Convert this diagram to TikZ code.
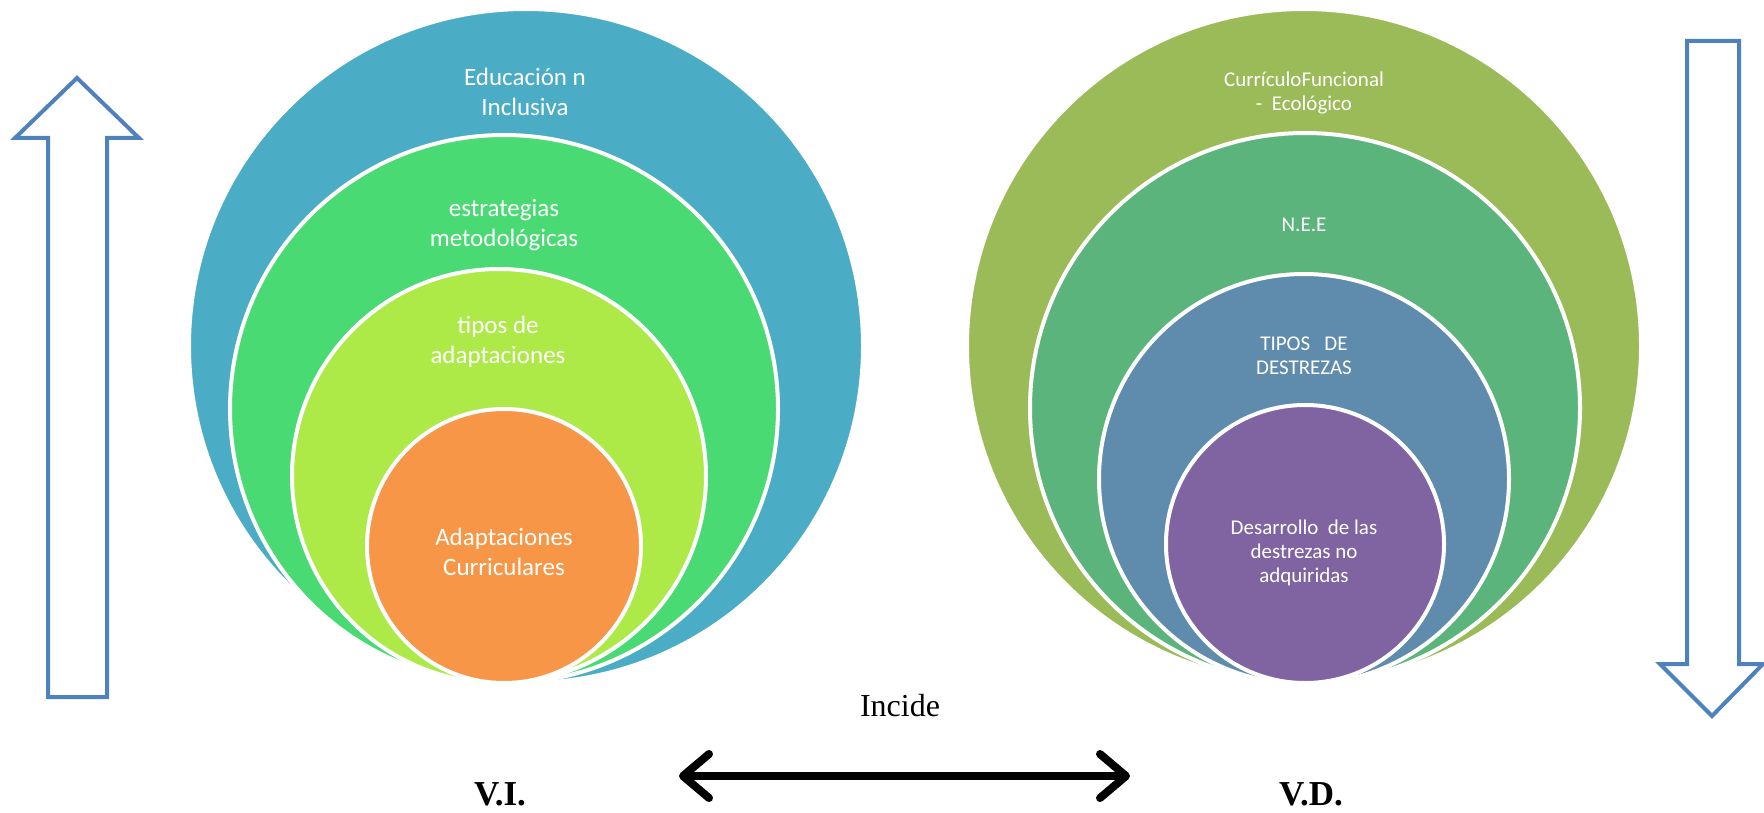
\documentclass[tikz,border=0pt]{standalone}
\usepackage{fontspec}
\setmainfont{Carlito}
\newfontfamily\timesfont{Liberation Serif}
\usetikzlibrary{arrows.meta}

\definecolor{eduBlue}{HTML}{4BACC6}
\definecolor{estrGreen}{HTML}{4ADA74}
\definecolor{tiposLime}{HTML}{ADEA48}
\definecolor{adaptOrange}{HTML}{F79646}
\definecolor{currOlive}{HTML}{9BBB59}
\definecolor{neeGreen}{HTML}{5CB47D}
\definecolor{tiposSteel}{HTML}{5F8BAD}
\definecolor{desaPurple}{HTML}{8064A2}
\definecolor{arrowBlue}{HTML}{4F81BD}

\begin{document}
\begin{tikzpicture}[x=1pt, y=-1pt,
        ring/.style={circle,draw=white,line width=4pt,inner sep=0pt,minimum size=#1},
        bigtext/.style={text=white,align=center,inner sep=0pt,font=\fontsize{25}{29.5}\selectfont},
        smalltext/.style={text=white,align=center,inner sep=0pt,font=\fontsize{21}{24}\selectfont},
        blockarrow/.style={draw=arrowBlue,line width=4pt,fill=white,line join=miter},
        vartext/.style={font=\timesfont\bfseries\fontsize{35}{40}\selectfont}
        ]
        \useasboundingbox (0,0) rectangle (1764,813);

        % V.I. circles
        \node[ring=674pt,fill=eduBlue] (edu) at (526,346) {};
        \node[ring=548pt,fill=estrGreen] (estr) at (504,409) {};
        \node[ring=414pt,fill=tiposLime] (tipos) at (499,476) {};
        \node[ring=274pt,fill=adaptOrange] (adapt) at (504,546) {};
        \node[bigtext] (eduT) at (525,92) {Educación n\\Inclusiva};
        \node[bigtext] (estrT) at (504,225) {estrategias\\metodológicas};
        \node[bigtext] (tiposT) at (498,342) {tipos de\\adaptaciones};
        \node[bigtext] (adaptT) at (504,552) {Adaptaciones\\Curriculares};

        % V.D. circles
        \node[ring=674pt,fill=currOlive] (curr) at (1304,346) {};
        \node[ring=550pt,fill=neeGreen] (nee) at (1305,408) {};
        \node[ring=410pt,fill=tiposSteel] (tiposD) at (1304,479) {};
        \node[ring=278pt,fill=desaPurple] (desa) at (1305,544) {};
        \node[smalltext] (currT) at (1304,93) {CurrículoFuncional\\-\ \ Ecológico};
        \node[smalltext] (neeT) at (1304,225) {N.E.E};
        \node[smalltext] (tiposDT) at (1304,356) {TIPOS\ \ \ DE\\DESTREZAS};
        \node[smalltext] (desaT) at (1304,553) {Desarrollo\ \ de las\\destrezas no\\adquiridas};

        % block arrows
        \draw[blockarrow] (77,78) -- (139,138) -- (107,138) -- (107,697)
          -- (48,697) -- (48,138) -- (15,138) -- cycle;
        \draw[blockarrow] (1687,41) -- (1739,41) -- (1739,664) -- (1763,664)
          -- (1712,716) -- (1660,664) -- (1687,664) -- cycle;

        % incide
        \node[font=\timesfont\fontsize{32}{36}\selectfont] (inc) at (900,706) {Incide};
        \node[vartext] (vi) at (500,794) {V.I.};
        \node[vartext] (vd) at (1311,794) {V.D.};
        \coordinate (incL) at (679,776);
        \coordinate (incR) at (1130,776);
        \draw[line width=8pt,line cap=round,
          {Straight Barb[length=26pt,width=44pt,line cap=round,line join=round]}-{Straight Barb[length=26pt,width=44pt,line cap=round,line join=round]}]
          (incL) -- (incR);
      \end{tikzpicture}
\end{document}
